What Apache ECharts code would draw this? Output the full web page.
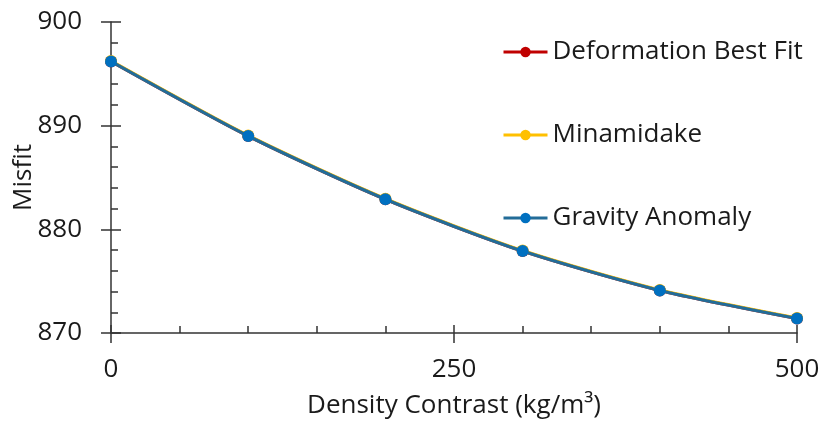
<!DOCTYPE html>
<html>
<head>
<meta charset="utf-8">
<script src="https://cdn.jsdelivr.net/npm/echarts@6/dist/echarts.min.js"></script>
<style>
  html, body { margin: 0; padding: 0; background: #fff; }
  #chart { width: 823px; height: 421px; }
</style>
</head>
<body>
<div id="chart"></div>
<script>
// Density contrast (kg/m^3) tested for each model
const densityContrast = [0, 100, 200, 300, 400, 500];

// Misfit per model
const deformationBestFit = [896.2, 889.0, 882.9, 877.9, 874.1, 871.4];
const minamidake         = [896.25, 889.05, 882.95, 877.95, 874.15, 871.45];
const gravityAnomaly     = [896.2, 889.0, 882.9, 877.9, 874.1, 871.4];

const seriesNames = ['Deformation Best Fit', 'Minamidake', 'Gravity Anomaly'];

const FONT = 'Open Sans';
const FS = 26;
const TEXT = '#1a1a1a';
const AXIS = '#333333';

function pairs(vals) {
  return densityContrast.map((x, i) => [x, vals[i]]);
}

function lineSeries(name, vals, lineColor, markColor, z) {
  return {
    name: name,
    type: 'line',
    data: pairs(vals),
    smooth: 0.25,
    symbol: 'circle',
    symbolSize: 12,
    z: z,
    lineStyle: { width: 3.2, color: lineColor },
    itemStyle: { color: markColor },
    emphasis: { disabled: true }
  };
}

const chart = echarts.init(document.getElementById('chart'), null, { renderer: 'canvas' });

chart.setOption({
  animation: false,
  textStyle: { fontFamily: FONT },
  grid: { left: 111, right: 26, top: 22, bottom: 88, containLabel: false, outerBoundsMode: 'none' },
  legend: {
    orient: 'vertical',
    left: 497,
    top: 34,
    itemWidth: 44,
    itemHeight: 13,
    itemGap: 57,
    data: seriesNames,
    lineStyle: { width: 3 },
    textStyle: { fontFamily: FONT, fontSize: FS, color: TEXT }
  },
  xAxis: [
    {
      type: 'value',
      min: 0, max: 500, interval: 250,
      position: 'bottom',
      name: 'Density Contrast (kg/m³)',
      nameLocation: 'middle',
      nameGap: 60,
      nameMoveOverlap: false,
      nameTextStyle: { fontFamily: FONT, fontSize: FS, color: TEXT },
      axisLine: { show: true, lineStyle: { color: AXIS, width: 1.5 } },
      axisTick: { show: true, inside: false, length: 10, lineStyle: { color: AXIS, width: 1.5 } },
      axisLabel: { margin: 24, fontFamily: FONT, fontSize: FS, color: TEXT },
      splitLine: { show: false }
    },
    {
      type: 'value',
      min: 0, max: 500, interval: 250,
      position: 'bottom',
      axisLine: { show: false },
      axisTick: { show: true, inside: true, length: 8, lineStyle: { color: AXIS, width: 1.5 } },
      minorTick: { show: true, splitNumber: 5, length: 7, lineStyle: { color: AXIS, width: 1.5 } },
      axisLabel: { show: false },
      splitLine: { show: false }
    }
  ],
  yAxis: [
    {
      type: 'value',
      min: 870, max: 900, interval: 10,
      position: 'left',
      name: 'Misfit',
      nameLocation: 'middle',
      nameGap: 74,
      nameMoveOverlap: false,
      nameTextStyle: { fontFamily: FONT, fontSize: FS, color: TEXT },
      axisLine: { show: true, lineStyle: { color: AXIS, width: 1.5 } },
      axisTick: { show: true, inside: false, length: 10, lineStyle: { color: AXIS, width: 1.5 } },
      axisLabel: { margin: 29, fontFamily: FONT, fontSize: FS, color: TEXT },
      splitLine: { show: false }
    },
    {
      type: 'value',
      min: 870, max: 900, interval: 10,
      position: 'left',
      axisLine: { show: false },
      axisTick: { show: true, inside: true, length: 10, lineStyle: { color: AXIS, width: 1.5 } },
      minorTick: { show: true, splitNumber: 5, length: 7, lineStyle: { color: AXIS, width: 1.5 } },
      axisLabel: { show: false },
      splitLine: { show: false }
    }
  ],
  series: [
    lineSeries(seriesNames[0], deformationBestFit, '#C00000', '#C00000', 2),
    lineSeries(seriesNames[1], minamidake, '#FFC000', '#FFC000', 3),
    lineSeries(seriesNames[2], gravityAnomaly, '#236C98', '#0070C0', 4)
  ]
});
</script>
</body>
</html>
